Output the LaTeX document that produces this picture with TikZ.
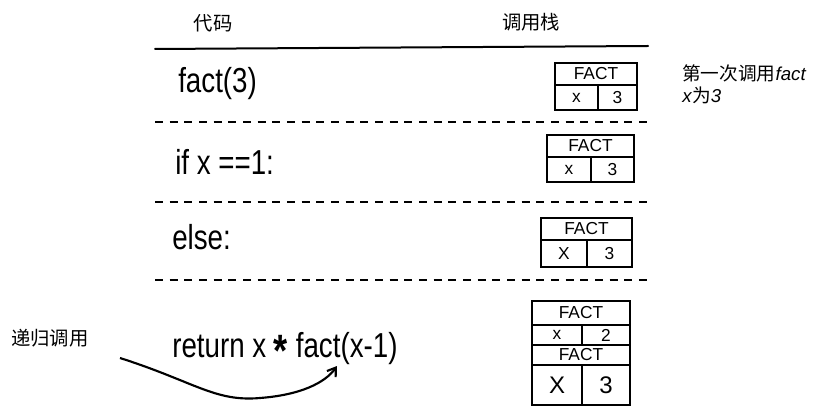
\documentclass[tikz,border=0pt]{standalone}
\usepackage{fontspec}
\setmainfont{Liberation Sans}
\newfontfamily\cjk{Noto Sans CJK SC}
\newfontfamily\hand[FakeStretch=0.8]{Liberation Sans}
\usetikzlibrary{arrows.meta, positioning}

\begin{document}
\begin{tikzpicture}[
    x=0.75pt, y=-0.75pt,
    head/.style={font=\cjk\fontsize{14.5}{16}\selectfont, inner sep=0pt},
    code/.style={font=\hand\fontsize{26}{30}\selectfont, anchor=base west, inner sep=0pt},
    rule/.style={line width=1.5pt, line cap=round},
    sep/.style={line width=1.4pt, dash pattern=on 6pt off 5pt},
    frame/.style={draw, line width=2.1pt, inner sep=0pt, outer sep=0pt, font=\fontsize{13}{15}\selectfont},
    arrow/.style={-{Straight Barb[length=6pt, width=8pt]}, line width=1.6pt},
]
\fill[white] (0,0) rectangle (823,416);
\useasboundingbox (0,0) rectangle (823,416);

% column heads
\node[head] (hcode)  at (213,23) {代码};
\node[head] (hstack) at (531,22) {调用栈};
\draw[rule] (155,49) -- (648,46);

% code lines
\node[code] (l1) at (178,93)  {fact(3)};
\node[code] (l2) at (175,175) {if x ==1:};
\node[code] (l3) at (172,250) {else:};
\node[code] (l4) at (172,357) {return x \raisebox{-0.5ex}{\fontsize{34}{34}\selectfont\bfseries *} fact(x-1)};

\draw[sep] (155,122) -- (648,122);
\draw[sep] (155,202) -- (648,202);
\draw[sep] (155,280) -- (648,280);

% call stack
\node[frame, minimum width=61.5pt, minimum height=16.5pt] (fr1) at (596,74) {FACT};
\node[frame, minimum width=32.25pt, minimum height=18.75pt, anchor=north west] (fr1x) at (fr1.south west) {x};
\node[frame, minimum width=29.25pt, minimum height=18.75pt, anchor=north east] (fr1v) at (fr1.south east) {3};

\node[frame, minimum width=65.25pt, minimum height=16.5pt] (fr2) at (590.5,146) {FACT};
\node[frame, minimum width=33pt, minimum height=18.75pt, anchor=north west] (fr2x) at (fr2.south west) {x};
\node[frame, minimum width=32.25pt, minimum height=18.75pt, anchor=north east] (fr2v) at (fr2.south east) {3};

\node[frame, minimum width=68.25pt, minimum height=16.5pt] (fr3) at (586.5,229) {FACT};
\node[frame, minimum width=34.5pt, minimum height=20.25pt, anchor=north west] (fr3x) at (fr3.south west) {X};
\node[frame, minimum width=33.75pt, minimum height=20.25pt, anchor=north east] (fr3v) at (fr3.south east) {3};

\node[frame, minimum width=73.5pt, minimum height=18pt] (fr4a) at (581,313) {FACT};
\node[frame, minimum width=37.5pt, minimum height=15pt, anchor=north west] (fr4ax) at (fr4a.south west) {x};
\node[frame, minimum width=36pt, minimum height=15pt, anchor=north east] (fr4av) at (fr4a.south east) {2};
\node[frame, minimum width=73.5pt, minimum height=15pt, anchor=north west] (fr4b) at (fr4ax.south west) {FACT};
\node[frame, minimum width=37.5pt, minimum height=30pt, anchor=north west, font=\fontsize{18}{20}\selectfont] (fr4bx) at (fr4b.south west) {X};
\node[frame, minimum width=36pt, minimum height=30pt, anchor=north east, font=\fontsize{18}{20}\selectfont] (fr4bv) at (fr4b.south east) {3};

% notes
\node[anchor=west, align=left, inner sep=0pt, font=\fontsize{14}{16.5}\selectfont] (note) at (682,84)
  {{\cjk 第一次调用}\textit{fact}\\\textit{x}{\cjk 为}\textit{3}};
\node[head] (recur) at (50,338) {递归调用};

\coordinate (tail) at (120,358);
\coordinate (callpt) at (337,366);
\draw[arrow] (tail) .. controls (195,382) and (215,402) .. (260,398)
             .. controls (300,395) and (325,383) .. (callpt);
\end{tikzpicture}
\end{document}
